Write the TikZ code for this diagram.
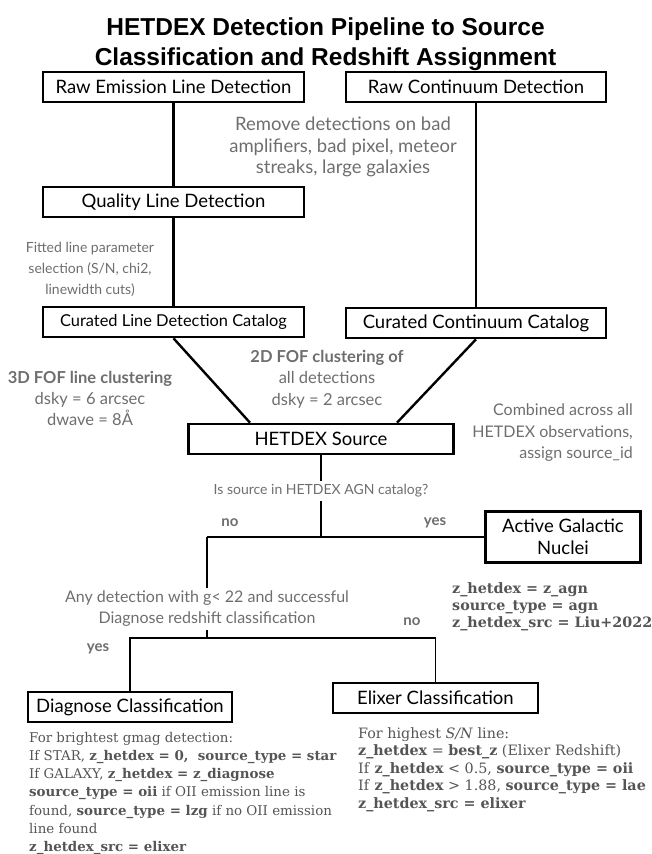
\documentclass[tikz,border=0pt]{standalone}
\usepackage{fontspec}
\setmainfont{Lato}
\newfontfamily\slabfont{DejaVu Serif}
\newfontfamily\titlefont{Liberation Sans}
\definecolor{cgray}{HTML}{6e6e6e}
\definecolor{cslab}{HTML}{555555}

\begin{document}
\begin{tikzpicture}[x=1pt,y=-1pt,
  box/.style={draw,line width=2.6pt,minimum height=30pt,inner sep=0pt,
    font=\fontsize{18.5}{22.5}\selectfont,align=center},
  link/.style={line width=2.4pt},
  thinlink/.style={line width=1.8pt},
  note/.style={text=cgray,font=\fontsize{14}{21}\selectfont,align=center,inner sep=3pt},
  tag/.style={text=cgray,font=\fontsize{15}{17}\selectfont\bfseries,inner sep=1pt},
  slab/.style={text=cslab,font=\slabfont\fontsize{13.4}{18.2}\selectfont,align=left,
    inner sep=0pt,anchor=north west}]
  \useasboundingbox (0,0) rectangle (651,854);
  \node[font=\titlefont\bfseries\fontsize{24.5}{30}\selectfont,align=center] (title) at (325.5,44)
    {HETDEX Detection Pipeline to Source\\Classification and Redshift Assignment};
  \node[box,minimum width=261pt] (rawline) at (173.5,87) {Raw Emission Line Detection};
  \node[box,minimum width=260pt] (rawcont) at (476,87) {Raw Continuum Detection};
  \node[box,minimum width=261pt] (quality) at (173.5,202) {Quality Line Detection};
  \node[box,minimum width=261pt,font=\fontsize{16.4}{20}\selectfont] (curline) at (173.5,322) {Curated Line Detection Catalog};
  \node[box,minimum width=260pt] (curcont) at (476,323) {Curated Continuum Catalog};
  \node[box,minimum width=265pt] (source) at (321,439) {HETDEX Source};
  \node[box,minimum width=155pt,minimum height=51pt] (agn) at (563,537) {Active Galactic\\Nuclei};
  \node[box,minimum width=204pt] (diag) at (130,707) {Diagnose Classification};
  \node[box,minimum width=205pt] (elixer) at (435.5,698) {Elixer Classification};
  % notes along the pipeline
  \node[note,font=\fontsize{18.5}{21.5}\selectfont] (badpix) at (343,147) {Remove detections on bad\\amplifiers, bad pixel, meteor\\streaks, large galaxies};
  \node[note] (linesel) at (90,269) {Fitted line parameter\\selection (S/N, chi2,\\linewidth cuts)};
  \node[note,font=\fontsize{16.5}{21}\selectfont] (fof3d) at (90,398) {\textbf{3D FOF line clustering}\\dsky = 6 arcsec\\dwave = 8Å};
  \node[note,font=\fontsize{16.5}{21.5}\selectfont] (fof2d) at (327,379) {\textbf{2D FOF clustering of}\\all detections\\dsky = 2 arcsec};
  \node[note,align=right,anchor=east,font=\fontsize{16}{21.5}\selectfont] (combined) at (636,433) {Combined across all\\HETDEX observations,\\assign source\_id};
  \node[note] (askagn) at (321,491) {Is source in HETDEX AGN catalog?};
  \node[note,font=\fontsize{16}{21}\selectfont] (askdiag) at (207,609) {Any detection with g< 22 and successful\\Diagnose redshift classification};
  \node[tag] (noagn) at (230,523) {no};
  \node[tag] (yesagn) at (435,523) {yes};
  \node[tag] (yesdiag) at (98,649) {yes};
  \node[tag] (nodiag) at (412,622) {no};
  % connectors
  \draw[link] (rawline) -- (quality);
  \draw[link] (quality) -- (curline);
  \draw[link] (rawcont) -- (curcont);
  \draw[link] (curline.south) -- ([xshift=-71pt]source.north);
  \draw[link] (curcont.south) -- ([xshift=76pt]source.north);
  \coordinate (agnsplit) at (321,537);
  \coordinate (noturn) at (207,537);
  \coordinate (diagsplit) at (207,638);
  \draw[link] (source) -- (askagn);
  \draw[thinlink] (askagn) -- (agnsplit);
  \draw[thinlink] (noturn) -- (noturn -| agn.west);
  \draw[thinlink] (noturn) -- (askdiag);
  \draw[thinlink] (askdiag) -- (diagsplit);
  \draw[thinlink] (diag.north) -- (diag.north |- diagsplit) -- (elixer.north |- diagsplit) -- (elixer.north);
  % assignments
  \node[slab,font=\slabfont\bfseries\fontsize{14.3}{17.2}\selectfont] (agntext) at (452,582)
    {z\_hetdex = z\_agn\\source\_type = agn\\z\_hetdex\_src = Liu+2022};
  \node[slab] (diagtext) at (29,732)
    {For brightest gmag detection:\\
     If STAR, \textbf{z\_hetdex = 0,\ \ source\_type = star}\\
     If GALAXY, \textbf{z\_hetdex = z\_diagnose}\\
     \textbf{source\_type = oii} if OII emission line is\\
     found, \textbf{source\_type = lzg} if no OII emission\\
     line found\\
     \textbf{z\_hetdex\_src = elixer}};
  \node[slab,font=\slabfont\fontsize{14.3}{17.6}\selectfont] (elixertext) at (358,727)
    {For highest \textit{S/N} line:\\
     \textbf{z\_hetdex} = \textbf{best\_z} (Elixer Redshift)\\
     If \textbf{z\_hetdex} < 0.5, \textbf{source\_type = oii}\\
     If \textbf{z\_hetdex} > 1.88, \textbf{source\_type = lae}\\
     \textbf{z\_hetdex\_src = elixer}};
\end{tikzpicture}
\end{document}
